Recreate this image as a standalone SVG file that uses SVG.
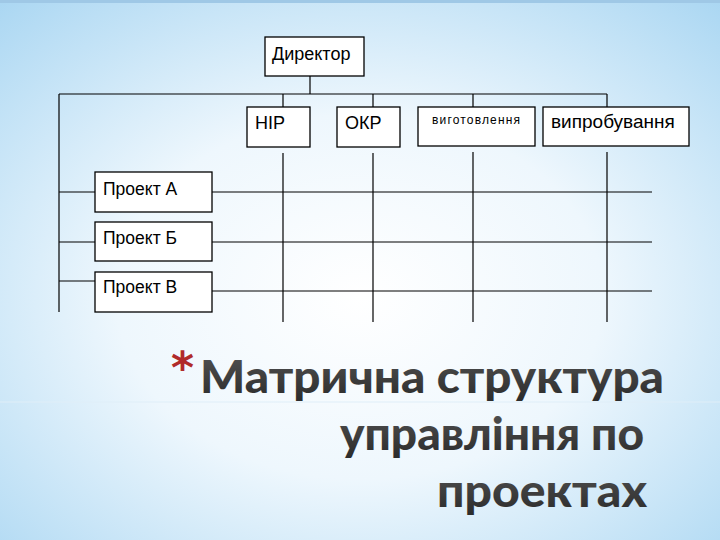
<svg xmlns="http://www.w3.org/2000/svg" width="720" height="540" viewBox="0 0 720 540">
<defs>
<radialGradient id="bg" cx="0.5" cy="0.55" r="0.75">
<stop offset="0" stop-color="#ffffff"/>
<stop offset="0.45" stop-color="#eef7fd"/>
<stop offset="1" stop-color="#a9d6f2"/>
</radialGradient>
<linearGradient id="tg" x1="0" y1="0" x2="0" y2="1">
<stop offset="0" stop-color="#555"/>
<stop offset="1" stop-color="#2a2a2a"/>
</linearGradient>
</defs>
<style>
.box{fill:#ffffff;stroke:#000;stroke-width:1.3}
.ln{stroke:#000;stroke-width:1.2;fill:none}
.t{font-family:"Liberation Sans",Arial,sans-serif;fill:#000}
.title{font-family:Lato,"Open Sans",sans-serif;font-weight:900;font-size:46px;fill:url(#tg)}
</style>
<rect width="720" height="540" fill="url(#bg)"/>
<rect x="0" y="0" width="720" height="3" fill="#9fc8e6"/>
<line x1="0" y1="402" x2="720" y2="402" stroke="#dfeef8" stroke-width="1"/>

<g id="connectors">
<line class="ln" x1="310" y1="76" x2="310" y2="94"/>
<line class="ln" x1="59" y1="94" x2="607" y2="94"/>
<line class="ln" x1="283" y1="94" x2="283" y2="107"/>
<line class="ln" x1="373" y1="94" x2="373" y2="107"/>
<line class="ln" x1="473" y1="94" x2="473" y2="107"/>
<line class="ln" x1="607" y1="94" x2="607" y2="107"/>
<line class="ln" x1="283" y1="153" x2="283" y2="322"/>
<line class="ln" x1="373" y1="153" x2="373" y2="322"/>
<line class="ln" x1="473" y1="152" x2="473" y2="322"/>
<line class="ln" x1="607" y1="152" x2="607" y2="322"/>
<line class="ln" x1="59" y1="94" x2="59" y2="312"/>
<line class="ln" x1="59" y1="192" x2="95" y2="192"/>
<line class="ln" x1="59" y1="242" x2="95" y2="242"/>
<line class="ln" x1="59" y1="281" x2="95" y2="281"/>
<line class="ln" x1="212" y1="192" x2="652" y2="192"/>
<line class="ln" x1="212" y1="242" x2="652" y2="242"/>
<line class="ln" x1="212" y1="291" x2="652" y2="291"/>
</g>

<g id="director">
<rect class="box" x="265" y="37" width="99" height="39"/>
<text class="t" x="272" y="60" font-size="18">Директор</text>
</g>
<g id="nir">
<rect class="box" x="247" y="107" width="63" height="40"/>
<text class="t" x="255" y="129" font-size="18">НІР</text>
</g>
<g id="okr">
<rect class="box" x="337" y="107" width="63" height="40"/>
<text class="t" x="345" y="129" font-size="18">ОКР</text>
</g>
<g id="vygotovlennya">
<rect class="box" x="418" y="107" width="117" height="39"/>
<text class="t" x="432" y="124" font-size="12" textLength="88" lengthAdjust="spacing">виготовлення</text>
</g>
<g id="vyprobuvannya">
<rect class="box" x="543" y="107" width="146" height="39"/>
<text class="t" x="551" y="128" font-size="19">випробування</text>
</g>
<g id="project-a">
<rect class="box" x="95" y="172" width="117" height="40"/>
<text class="t" x="103" y="195" font-size="17.5">Проект А</text>
</g>
<g id="project-b">
<rect class="box" x="95" y="222" width="117" height="39"/>
<text class="t" x="103" y="244" font-size="17.5">Проект Б</text>
</g>
<g id="project-v">
<rect class="box" x="95" y="272" width="117" height="40"/>
<text class="t" x="103" y="293" font-size="17.5">Проект В</text>
</g>

<g id="title">
<text x="171" y="383" font-family="'DejaVu Sans',sans-serif" font-weight="bold" font-size="44" fill="#b02a2a">*</text>
<text class="title" x="200" y="393" textLength="464" lengthAdjust="spacingAndGlyphs">Матрична структура</text>
<text class="title" x="340" y="450" textLength="304" lengthAdjust="spacingAndGlyphs">управління по</text>
<text class="title" x="437" y="507" textLength="210" lengthAdjust="spacingAndGlyphs">проектах</text>
</g>
</svg>
